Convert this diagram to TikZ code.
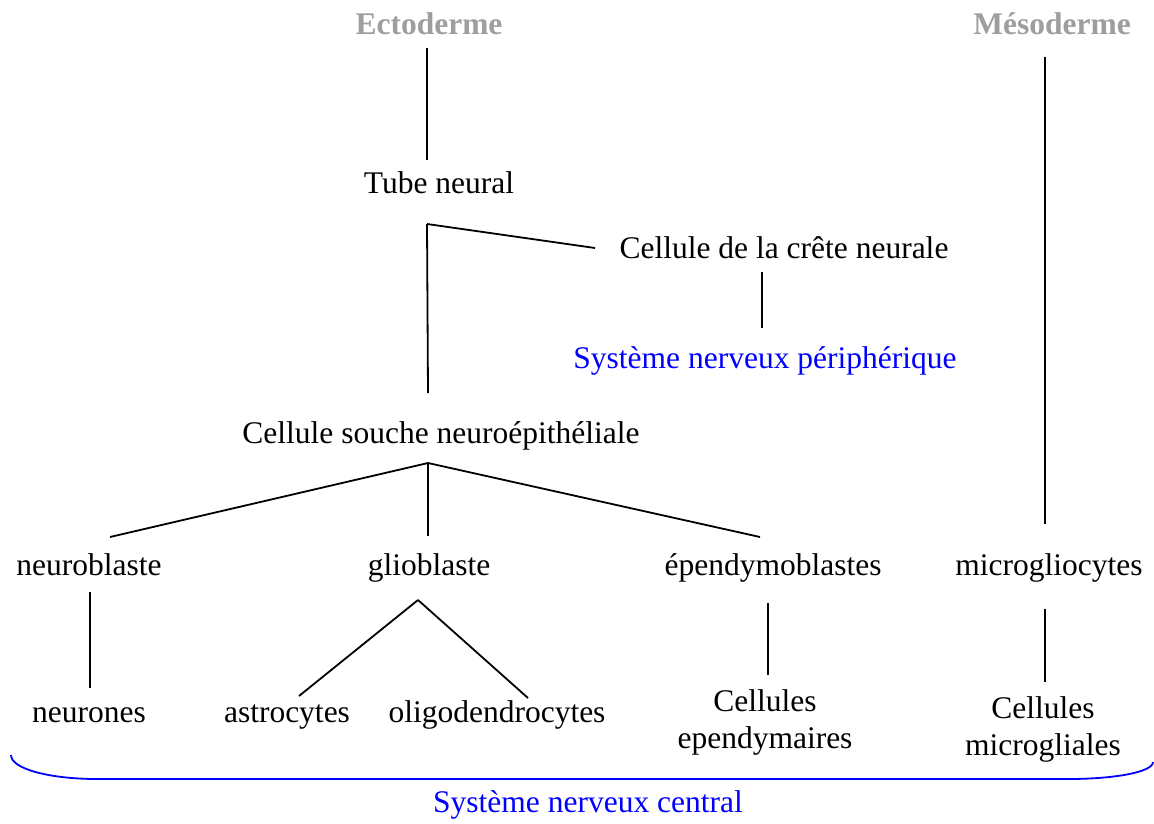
\documentclass[tikz,border=0pt]{standalone}
\usepackage{fontspec}
\setmainfont{Liberation Serif}
\definecolor{germgray}{RGB}{158,158,158}
\definecolor{sysblue}{RGB}{0,0,255}
\begin{document}
\begin{tikzpicture}[x=1pt,y=-1pt,
  lbl/.style={inner sep=0pt,outer sep=0pt,anchor=base,font=\fontsize{31.5}{37}\selectfont},
  germ/.style={lbl,text=germgray,font=\fontsize{31.5}{37}\selectfont\bfseries},
  sys/.style={lbl,text=sysblue},
  twoline/.style={lbl,anchor=north,align=center},
  link/.style={line width=1.8pt,black},
  brace/.style={line width=1.8pt,sysblue}]
\useasboundingbox (0,0) rectangle (1154,823);

% germ layers
\node[germ] (ecto) at (429,34) {Ectoderme};
\node[germ] (meso) at (1052,34) {Mésoderme};

% neural tube and crest
\node[lbl] (tube) at (439,193) {Tube neural};
\node[lbl] (crete) at (784,258) {Cellule de la crête neurale};
\node[sys] (snp) at (765,368) {Système nerveux périphérique};
\node[lbl] (souche) at (441,443) {Cellule souche neuroépithéliale};

% progenitors
\node[lbl] (neuroblaste) at (89,575) {neuroblaste};
\node[lbl] (glioblaste) at (429,575) {glioblaste};
\node[lbl] (ependymo) at (773,575) {épendymoblastes};
\node[lbl] (microglio) at (1049,575) {microgliocytes};

% mature cells
\node[lbl] (neurones) at (89,722) {neurones};
\node[lbl] (astro) at (287,722) {astrocytes};
\node[lbl] (oligo) at (497,722) {oligodendrocytes};
\node[twoline] (cellep) at (765,689.5) {Cellules\\ependymaires};
\node[twoline] (cellmi) at (1043,696.5) {Cellules\\microgliales};

\node[sys] (snc) at (588,812) {Système nerveux central};

% junction points
\coordinate (j1) at ([xshift=-12pt,yshift=-31pt]tube.base);
\coordinate (j2) at ([xshift=-13pt,yshift=-20pt]souche.base);
\coordinate (j3) at ([xshift=-11pt,yshift=-25pt]glioblaste.base);

% connectors
\draw[link] ([xshift=-2pt,yshift=-14pt]ecto.base) -- ([xshift=-12pt,yshift=33pt]tube.base);
\draw[link] (j1) -- ([xshift=-189pt,yshift=10pt]crete.base);
\draw[link] (j1) -- ([xshift=-13pt,yshift=50pt]souche.base);
\draw[link] ([xshift=-22pt,yshift=-14pt]crete.base) -- ([xshift=-3pt,yshift=40pt]snp.base);
\draw[link] (j2) -- ([xshift=21pt,yshift=38pt]neuroblaste.base);
\draw[link] (j2) -- ([xshift=-1pt,yshift=39pt]glioblaste.base);
\draw[link] (j2) -- ([xshift=-13pt,yshift=38pt]ependymo.base);
\draw[link] ([xshift=-7pt,yshift=-23pt]meso.base) -- ([xshift=-4pt,yshift=51pt]microglio.base);
\draw[link] ([xshift=1pt,yshift=-17pt]neuroblaste.base) -- ([xshift=1pt,yshift=34pt]neurones.base);
\draw[link] (j3) -- ([xshift=12pt,yshift=26pt]astro.base);
\draw[link] (j3) -- ([xshift=31pt,yshift=24pt]oligo.base);
\draw[link] ([xshift=-5pt,yshift=-28pt]ependymo.base) -- ([xshift=3pt,yshift=14.5pt]cellep.north);
\draw[link] ([xshift=-4pt,yshift=-34pt]microglio.base) -- ([xshift=2pt,yshift=14.5pt]cellmi.north);

% brace under the central nervous system
\draw[brace] (11,755) .. controls (11,769) and (50,779) .. (97,779)
  -- (1068,779) .. controls (1115,779) and (1153,772) .. (1153,762);
\end{tikzpicture}
\end{document}
